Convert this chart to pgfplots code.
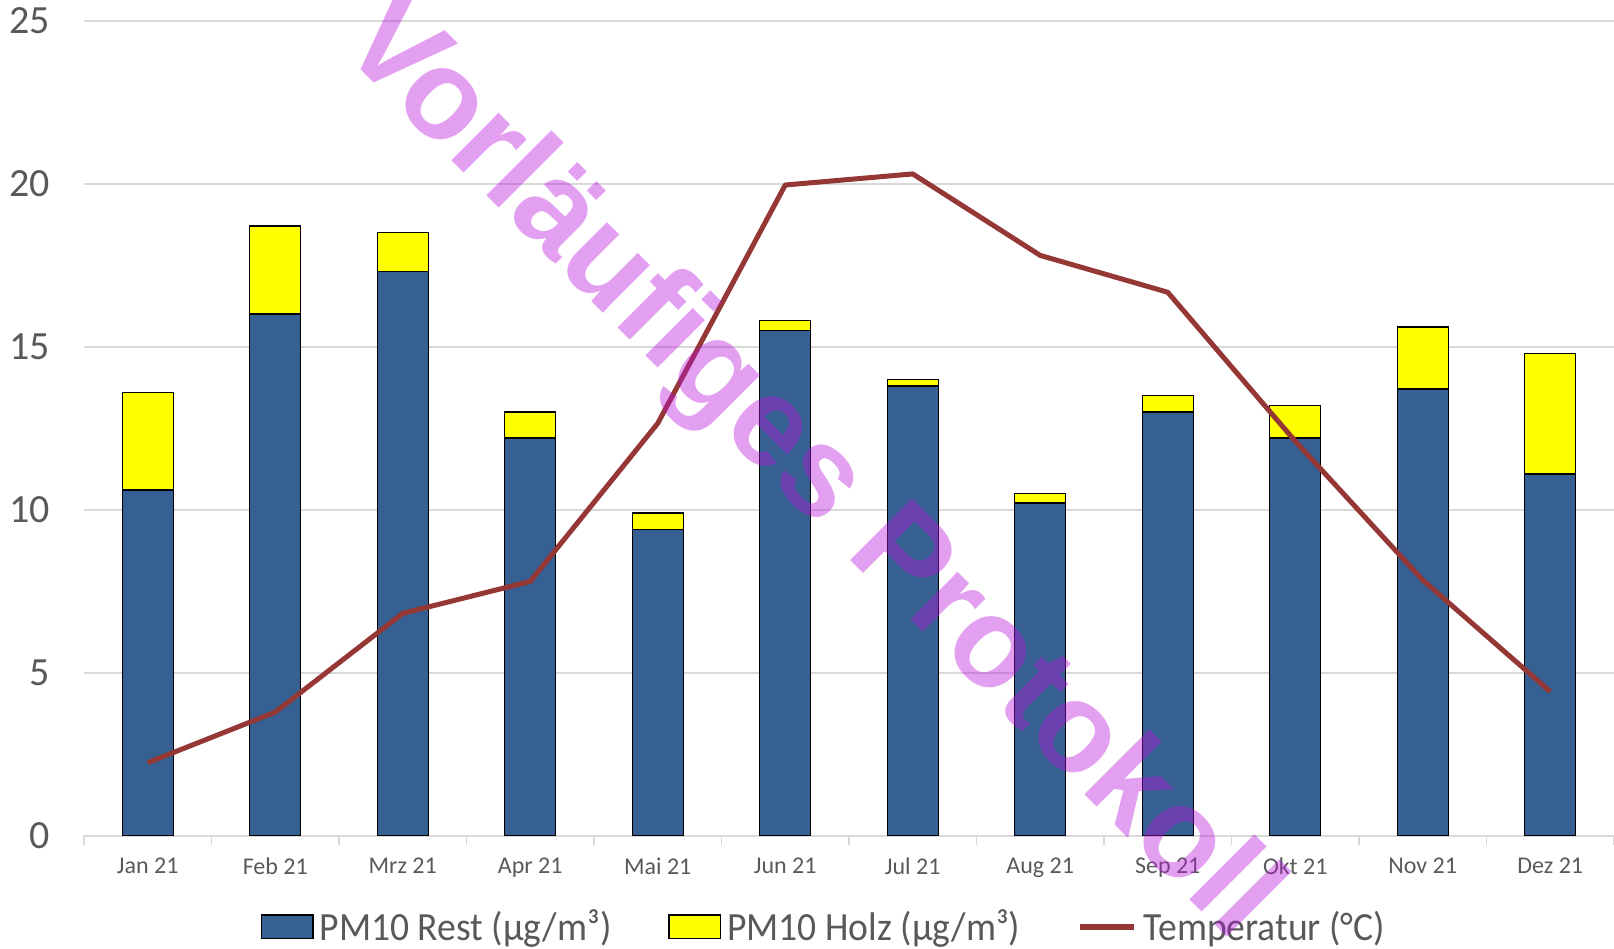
\documentclass[border=0pt]{standalone}
\usepackage{fontspec}
\setmainfont{Carlito}
\newfontfamily\wmfont{Liberation Sans}
\newfontfamily\legfont{Carlito}[FakeStretch=0.94]
\usepackage{pgfplots}
\pgfplotsset{compat=1.18}
\definecolor{restblue}{RGB}{54,96,146}
\definecolor{holzyellow}{RGB}{255,255,0}
\definecolor{tempred}{RGB}{149,55,53}
\definecolor{gridgray}{RGB}{217,217,217}
\definecolor{labelgray}{RGB}{89,89,89}
\definecolor{wm}{RGB}{185,18,220}
\pgfplotsset{
  boxlegend/.style={legend image code/.code={\draw[##1] (0pt,-5.9pt) rectangle (25.7pt,5.9pt);}},
  linelegend/.style={legend image code/.code={\draw[##1, line width=3pt] (0pt,0pt) -- (27pt,0pt);}},
  frame/.style={at={(42pt,56.65pt)}, anchor=south west,
    scale only axis, width=765pt, height=407.5pt,
    xmin=-0.5, xmax=11.5, ymin=0, ymax=25},
}
\begin{document}
\begin{tikzpicture}
\path[use as bounding box] (0,0) rectangle (807pt,474.5pt);
\begin{axis}[
  frame,
  clip=false,
  ybar stacked, bar width=0.4,
  xtick={0,...,11},
  xticklabels={Jan 21,Feb 21,Mrz 21,Apr 21,Mai 21,Jun 21,Jul 21,Aug 21,Sep 21,Okt 21,Nov 21,Dez 21},
  minor xtick={-0.5,0.5,...,11.5},
  ytick={0,5,...,25},
  major tick length=0pt, minor tick length=4.5pt, tick align=outside,
  minor x tick style={gridgray, line width=0.85pt},
  ytick style={draw=none},
  axis x line*=bottom, axis y line*=left,
  y axis line style={draw=none},
  x axis line style={gridgray, line width=0.85pt},
  ymajorgrids, grid style={gridgray, line width=0.85pt},
  /pgf/number format/assume math mode=true,
  yticklabel style={font=\fontsize{20}{24}\selectfont, text=labelgray, inner sep=0pt, xshift=-17pt},
  xticklabel style={font=\fontsize{12}{14}\selectfont, text=labelgray, inner sep=0pt, anchor=north, yshift=-11pt},
  legend style={at={(0.484,-0.112)}, anchor=center, draw=none, fill=none,
    legend columns=3, font=\legfont\fontsize{20}{24}\selectfont, text=labelgray,
    nodes={inner sep=1.5pt},
    /tikz/every odd column/.append style={column sep=1.5pt},
    /tikz/every even column/.append style={column sep=27pt}},
]
\addplot[fill=restblue, draw=black, line width=0.7pt, boxlegend]
  coordinates {(0,10.6) (1,16.0) (2,17.3) (3,12.2) (4,9.4) (5,15.5) (6,13.8) (7,10.2) (8,13.0) (9,12.2) (10,13.7) (11,11.1)};
\addlegendentry{PM10 Rest (µg/m³)}
\addplot[fill=holzyellow, draw=black, line width=0.7pt, boxlegend]
  coordinates {(0,3.0) (1,2.7) (2,1.2) (3,0.8) (4,0.5) (5,0.3) (6,0.2) (7,0.3) (8,0.5) (9,1.0) (10,1.9) (11,3.7)};
\addlegendentry{PM10 Holz (µg/m³)}
\addlegendimage{draw=tempred, line width=2.5pt, linelegend}
\addlegendentry{Temperatur (°C)}
\coordinate (wmpos) at (axis cs:5.0,10.45);
\end{axis}
\begin{axis}[frame, hide axis, clip=false]
\addplot[sharp plot, draw=tempred, line width=2.5pt, mark=none, line join=round]
  coordinates {(0,2.24) (1,3.79) (2,6.82) (3,7.8) (4,12.65) (5,19.96) (6,20.3) (7,17.8) (8,16.67) (9,12.1) (10,7.84) (11,4.42)};
\end{axis}
\node[rotate=-45, anchor=base, text=wm, opacity=0.4,
  font=\wmfont\bfseries\fontsize{63.5}{64}\selectfont] at (wmpos) {Vorläufiges Protokoll};
\end{tikzpicture}
\end{document}
